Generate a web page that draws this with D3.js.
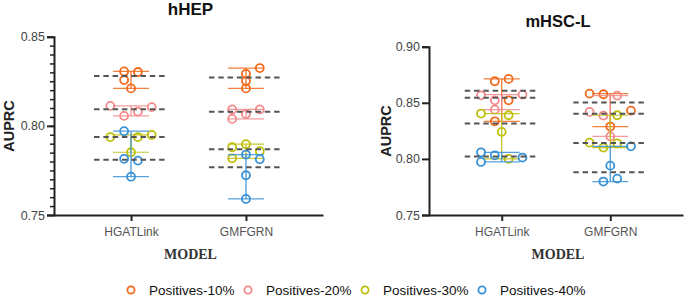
<!DOCTYPE html>
<html lang="en">
<head>
    <meta charset="UTF-8">
    <title>AUPRC by model</title>
    <script src="https://d3js.org/d3.v7.min.js"></script>
    <style>
        body { margin: 0; background: #fff; }
        text { font-family: "Liberation Sans", Arial, sans-serif; }
    </style>
</head>
<body>
    <svg width="685" height="298"></svg>

    <script>
        // categories and series
        const categories = ["HGATLink", "GMFGRN"];
        const seriesNames = ["Positives-10%", "Positives-20%", "Positives-30%", "Positives-40%"];
        const colors = ["#F26A1B", "#F4898B", "#BDBF0A", "#3A92D6"];

        // hHEP values, one row per series (10%, 20%, 30%, 40%)
        const hhepHGATLink = [
            [0.8305, 0.8302, 0.8257, 0.8210],
            [0.8112, 0.8105, 0.8080, 0.8056],
            [0.7937, 0.7937, 0.7949, 0.7852],
            [0.7970, 0.7815, 0.7805, 0.7715]
        ];
        const hhepGMFGRN = [
            [0.8324, 0.8292, 0.8251, 0.8210],
            [0.8092, 0.8092, 0.8066, 0.8039],
            [0.7880, 0.7897, 0.7858, 0.7818],
            [0.7839, 0.7813, 0.7723, 0.7590]
        ];
        // mHSC-L values
        const mhscHGATLink = [
            [0.8692, 0.8713, 0.8522, 0.8335],
            [0.8567, 0.8573, 0.8522, 0.8439],
            [0.8404, 0.8389, 0.8241, 0.8000],
            [0.8059, 0.8032, 0.8012, 0.7973]
        ];
        const mhscGMFGRN = [
            [0.8582, 0.8576, 0.8430, 0.8288],
            [0.8564, 0.8419, 0.8386, 0.8201],
            [0.8389, 0.8145, 0.8139, 0.8101],
            [0.8112, 0.7940, 0.7824, 0.7798]
        ];
        // dodge slots of each point
        const hhepHGATLinkSlot = [[-1, 1, -1, 0], [-3, 3, 1, -1], [-3, 1, 3, 0], [-1, -1, 1, 0]];
        const hhepGMFGRNSlot   = [[2, 0, 0, 0], [-2, 2, 0, -2], [-2, 0, 2, -2], [0, 2, 0, 0]];
        const mhscHGATLinkSlot = [[-1, 1, 1, -1], [-3, 3, -1, -1], [-3, 1, 0, 1], [-3, -1, 3, -3]];
        const mhscGMFGRNSlot   = [[-3, -1, 3, 0], [1, -3, -1, 0], [1, -3, 1, -1], [3, 0, 1, -1]];

        const hhepTicks = [0.75, 0.80, 0.85];
        const mhscTicks = [0.75, 0.80, 0.85, 0.90];

        const svg = d3.select("svg");

        function drawPanel(opt) {
            const g = svg.append("g");
            const x = d3.scalePoint().domain(categories).range([opt.x0, opt.x1]).padding(0.67);
            const y = d3.scaleLinear().domain(opt.domain).range([215, opt.top]);

            // minor ticks
            if (opt.minor) {
                g.append("g")
                 .attr("transform", `translate(${opt.x0},0)`)
                 .call(d3.axisLeft(y).tickValues(d3.range(0.755, 0.85, 0.005)).tickSize(4).tickFormat(""))
                 .call(a => a.select(".domain").remove())
                 .call(a => a.selectAll("line").attr("stroke", "#222").attr("stroke-width", 1.5));
            }
            const yAxis = g.append("g")
                .attr("transform", `translate(${opt.x0},0)`)
                .call(d3.axisLeft(y).tickValues(opt.ticks).tickFormat(d3.format(".2f")).tickSize(7).tickPadding(2));
            yAxis.select(".domain").attr("stroke", "#222").attr("stroke-width", 2);
            yAxis.selectAll("line").attr("stroke", "#222").attr("stroke-width", 2);
            yAxis.selectAll("text").attr("fill", "#444").style("font-size", "12.5px");

            const xAxis = g.append("g")
                .attr("transform", "translate(0,215)")
                .call(d3.axisBottom(x).tickSize(6).tickPadding(6).tickSizeOuter(0));
            xAxis.select(".domain").attr("stroke", "#222").attr("stroke-width", 2);
            xAxis.selectAll("line").attr("stroke", "#222").attr("stroke-width", 2);
            xAxis.selectAll("text").attr("fill", "#555").style("font-size", "12px");

            opt.data.forEach((rows, ci) => {
                const cx = x(categories[ci]);
                rows.forEach((vals, si) => {
                    const c = colors[si];
                    const lo = d3.min(vals), hi = d3.max(vals);
                    const sg = g.append("g");
                    sg.append("line").attr("x1", cx).attr("x2", cx).attr("y1", y(lo)).attr("y2", y(hi))
                      .attr("stroke", c).attr("stroke-width", 1.2);
                    [lo, hi].forEach(v => {
                        sg.append("line").attr("x1", cx - 18).attr("x2", cx + 18)
                          .attr("y1", y(v)).attr("y2", y(v))
                          .attr("stroke", c).attr("stroke-width", 1.2).attr("opacity", 0.85);
                    });
                    sg.selectAll("circle")
                      .data(vals)
                      .enter()
                      .append("circle")
                      .attr("cx", (d, i) => cx + opt.slots[ci][si][i] * 6.9)
                      .attr("cy", d => y(d))
                      .attr("r", 4)
                      .attr("fill", "none")
                      .attr("stroke", c)
                      .attr("stroke-width", 1.8);
                });
                // median lines
                rows.forEach(vals => {
                    g.append("line")
                     .attr("x1", cx - 37).attr("x2", cx + 37)
                     .attr("y1", y(d3.median(vals))).attr("y2", y(d3.median(vals)))
                     .attr("stroke", "#555").attr("stroke-width", 2)
                     .attr("stroke-dasharray", "5.5,3.8");
                });
            });

            g.append("text")
             .attr("x", (opt.x0 + opt.x1) / 2 + 2).attr("y", opt.titleY)
             .attr("text-anchor", "middle")
             .style("font-size", opt.titleSize).style("font-weight", "bold")
             .attr("fill", "#111")
             .text(opt.title);

            g.append("text")
             .attr("transform", `translate(${opt.labelX},${opt.labelY}) rotate(-90)`)
             .attr("text-anchor", "middle")
             .style("font-size", "14.5px").style("font-weight", "bold")
             .attr("fill", "#222")
             .text("AUPRC");

            g.append("text")
             .attr("x", (opt.x0 + opt.x1) / 2 + 2).attr("y", 259)
             .attr("text-anchor", "middle")
             .style("font-family", "'Liberation Serif', 'Times New Roman', serif")
             .style("font-size", "14px").style("font-weight", "bold")
             .attr("fill", "#333")
             .text("MODEL");
        }

        drawPanel({
            x0: 54, x1: 323, top: 36.7, domain: [0.75, 0.85], ticks: hhepTicks, minor: true,
            data: [hhepHGATLink, hhepGMFGRN], slots: [hhepHGATLinkSlot, hhepGMFGRNSlot],
            title: "hHEP", titleY: 15, titleSize: "17px", labelX: 14, labelY: 126
        });
        drawPanel({
            x0: 429, x1: 683, top: 46.7, domain: [0.75, 0.90], ticks: mhscTicks, minor: false,
            data: [mhscHGATLink, mhscGMFGRN], slots: [mhscHGATLinkSlot, mhscGMFGRNSlot],
            title: "mHSC-L", titleY: 26.5, titleSize: "16.5px", labelX: 390.5, labelY: 131
        });

        // legend
        const legend = svg.append("g").attr("transform", "translate(131,290)");
        const item = legend.selectAll("g")
            .data(seriesNames)
            .enter()
            .append("g")
            .attr("transform", (d, i) => `translate(${i * 117},0)`);
        item.append("circle")
            .attr("r", 3.6)
            .attr("fill", "none")
            .attr("stroke", (d, i) => colors[i])
            .attr("stroke-width", 1.8);
        item.append("text")
            .attr("x", 18).attr("y", 4.5)
            .style("font-size", "13.5px")
            .attr("fill", "#111")
            .text(d => d);
    </script>
</body>
</html>
